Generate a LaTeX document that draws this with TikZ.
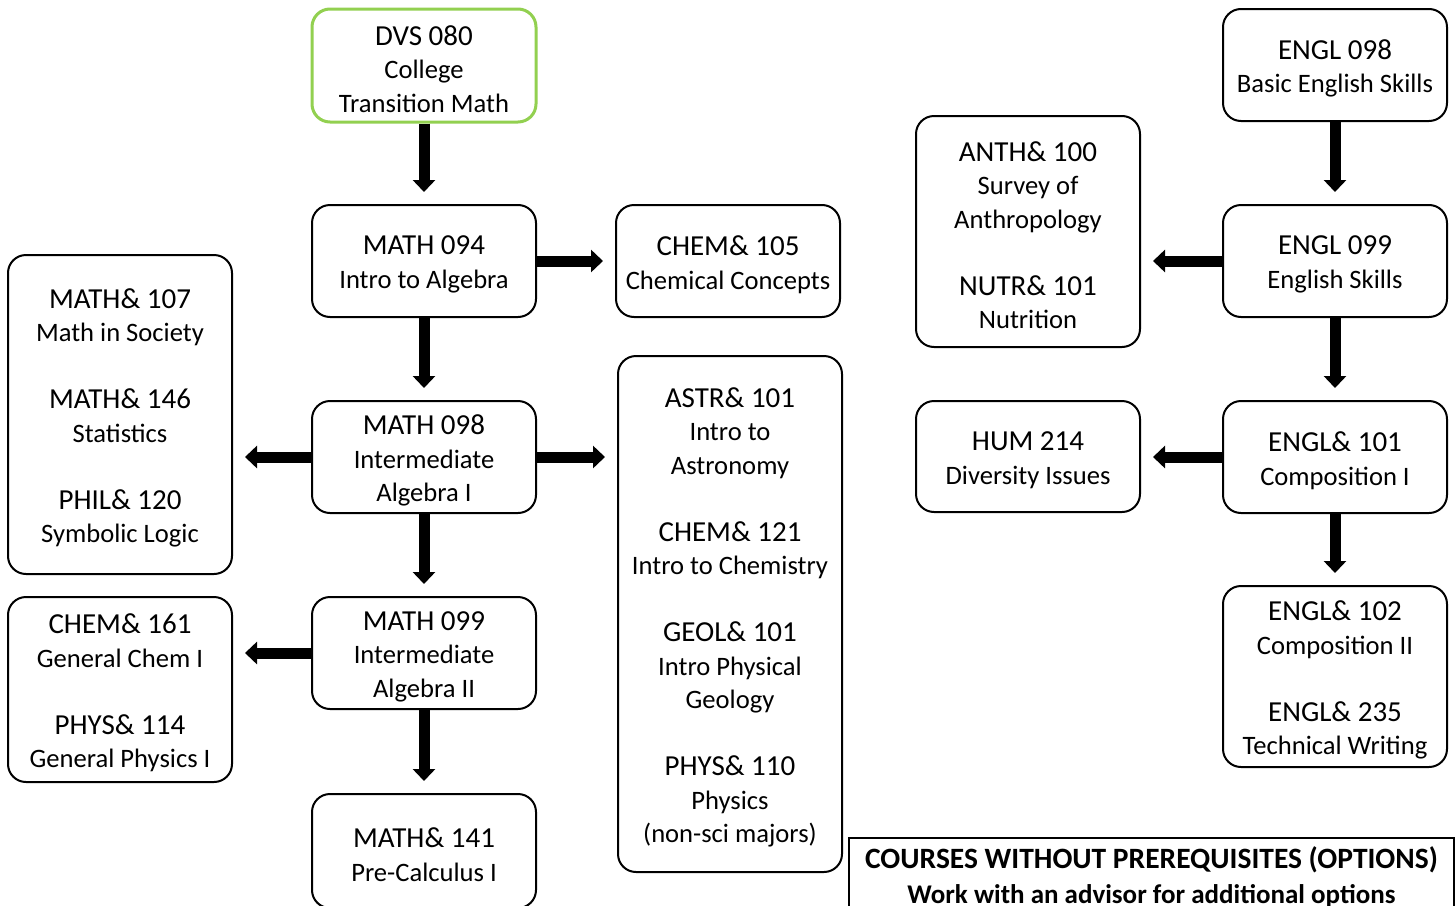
\documentclass[tikz,border=0pt]{standalone}
\usepackage{fontspec}
\setmainfont{Carlito}
\usetikzlibrary{arrows.meta}
\definecolor{lgreen}{HTML}{92D050}
\newcommand\cf[1]{{\fontsize{29}{33.5}\selectfont #1}}
% box with its text set 3.5pt below the box centre
\newcommand\bx[6][box]{%
  \node[#1,minimum height=#5pt] (#2) at (#3,#4) {};
  \node[txt] at ([yshift=-3.5pt]#2.center) {#6};}
\begin{document}
\begin{tikzpicture}[x=1pt,y=-1pt,
 box/.style={draw=black,line width=2pt,rounded corners=18pt,minimum width=224pt,inner sep=0pt},
 greenbox/.style={box,draw=lgreen,line width=3pt},
 txt/.style={inner sep=0pt,align=center,font=\fontsize{26.6}{33.5}\selectfont},
 notebox/.style={draw=black,line width=2pt,inner sep=0pt,minimum width=605pt,minimum height=78pt,align=center,font=\bfseries\fontsize{27}{35}\selectfont},
 arr/.style={line width=11pt,-{Triangle[width=22pt,length=12pt]},shorten >=12pt}]
\useasboundingbox (0,0) rectangle (1456,905);
\clip (0,0) rectangle (1456,905);
% math column
\bx[greenbox]{dvs}{424}{65.5}{113}{\cf{DVS 080}\\College\\Transition Math}
\bx{m094}{424}{261}{112}{\cf{MATH 094}\\Intro to Algebra}
\bx{chem105}{728}{261}{112}{\cf{CHEM\& 105}\\Chemical Concepts}
\bx{m098}{424}{457}{112}{\cf{MATH 098}\\Intermediate\\Algebra I}
\bx{m099}{424}{653}{112}{\cf{MATH 099}\\Intermediate\\Algebra II}
\bx{m141}{424}{851}{114}{\cf{MATH\& 141}\\Pre-Calculus I}
\bx{m107}{120}{414.5}{319}{\cf{MATH\& 107}\\Math in Society\\[33.5pt]\cf{MATH\& 146}\\Statistics\\[33.5pt]\cf{PHIL\& 120}\\Symbolic Logic}
\bx{chem161}{120}{689.5}{185}{\cf{CHEM\& 161}\\General Chem I\\[33.5pt]\cf{PHYS\& 114}\\General Physics I}
\bx{astr}{730}{614}{516}{\cf{ASTR\& 101}\\Intro to\\Astronomy\\[33.5pt]\cf{CHEM\& 121}\\Intro to Chemistry\\[33.5pt]\cf{GEOL\& 101}\\Intro Physical\\Geology\\[33.5pt]\cf{PHYS\& 110}\\Physics\\(non-sci majors)}
% english column
\bx{e098}{1335}{65}{112}{\cf{ENGL 098}\\Basic English Skills}
\bx{anth}{1028}{231.5}{231}{\cf{ANTH\& 100}\\Survey of\\Anthropology\\[33.5pt]\cf{NUTR\& 101}\\Nutrition}
\bx{e099}{1335}{261}{112}{\cf{ENGL 099}\\English Skills}
\bx{hum}{1028}{456.5}{111}{\cf{HUM 214}\\Diversity Issues}
\bx{e101}{1335}{457}{112}{\cf{ENGL\& 101}\\Composition I}
\bx{e102}{1335}{676.5}{181}{\cf{ENGL\& 102}\\Composition II\\[33.5pt]\cf{ENGL\& 235}\\Technical Writing}
\node[notebox,anchor=north west] (note) at (848,837) {{\fontsize{29.5}{35}\selectfont COURSES WITHOUT PREREQUISITES (OPTIONS)}\\Work with an advisor for additional options};
% arrows
\draw[arr] (dvs.south) -- (m094.north);
\draw[arr] (m094.east) -- (chem105.west);
\draw[arr] (m094.south) -- (m098.north);
\draw[arr] (m098.west) -- (m098.west -| m107.east);
\draw[arr] (m098.east) -- (m098.east -| astr.west);
\draw[arr] (m098.south) -- (m099.north);
\draw[arr] (m099.west) -- (m099.west -| chem161.east);
\draw[arr] (m099.south) -- (m141.north);
\draw[arr] (e098.south) -- (e099.north);
\draw[arr] (e099.west) -- (e099.west -| anth.east);
\draw[arr] (e099.south) -- (e101.north);
\draw[arr] (e101.west) -- (e101.west -| hum.east);
\draw[arr] (e101.south) -- (e102.north);
\end{tikzpicture}
\end{document}
